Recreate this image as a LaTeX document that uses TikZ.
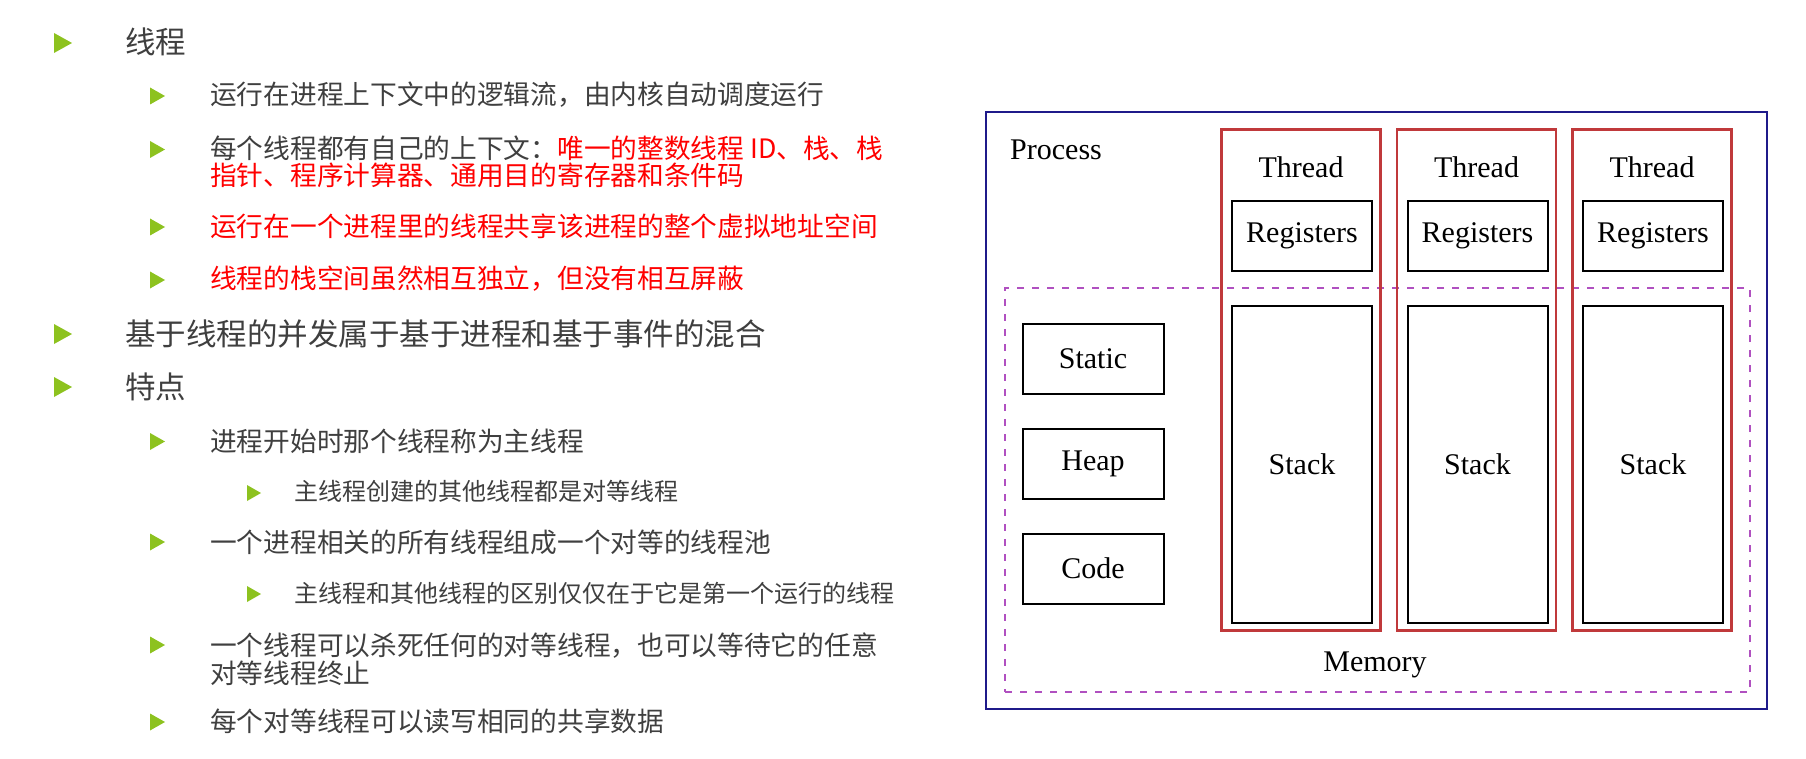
\documentclass[tikz,border=0pt]{standalone}
\usepackage{fontspec}
\setmainfont{Liberation Serif}
\newfontfamily\cjk{Noto Sans CJK SC}
\definecolor{txtgray}{HTML}{3F3F3F}
\definecolor{bulgreen}{HTML}{8DC21F}
\definecolor{hotred}{HTML}{FF0000}
\definecolor{procblue}{HTML}{1F1A8A}
\definecolor{thrred}{HTML}{C0393B}
\definecolor{memmag}{HTML}{B050C0}
\tikzset{
  lvA/.style={anchor=west, inner sep=0pt, text=txtgray, font={\cjk\fontsize{30.5}{32}\selectfont}},
  lvB/.style={anchor=west, inner sep=0pt, text=txtgray, font={\cjk\fontsize{26.7}{27.5}\selectfont}},
  lvC/.style={anchor=west, inner sep=0pt, text=txtgray, font={\cjk\fontsize{24}{26}\selectfont}},
  bulA/.pic={\fill[bulgreen] (0,-10) -- (18,0) -- (0,10) -- cycle;},
  bulB/.pic={\fill[bulgreen] (0,-8.5) -- (15,0) -- (0,8.5) -- cycle;},
  bulC/.pic={\fill[bulgreen] (0,-8) -- (14,0) -- (0,8) -- cycle;},
  dlbl/.style={inner sep=0pt, font={\fontsize{30}{32}\selectfont}},
  procbox/.style={draw=procblue, line width=2pt, rectangle},
  membox/.style={draw=memmag, line width=2.4pt, dash pattern=on 7pt off 8pt, rectangle},
  thrbox/.style={draw=thrred, line width=2.2pt, rectangle, minimum width=159, minimum height=501},
  blk/.style={draw=black, line width=2pt, rectangle, font={\fontsize{30}{32}\selectfont}},
  regbox/.style={blk, minimum width=140, minimum height=70},
  stkbox/.style={blk, minimum width=140, minimum height=317},
  segbox/.style={blk, minimum width=141, minimum height=70},
}
\begin{document}
\begin{tikzpicture}[x=1pt,y=-1pt]
\useasboundingbox[fill=white] (0,0) rectangle (1806,759);
% ---------- left text ----------
\pic at (54,43) {bulA};
\node[lvA] (t1) at (125,42) {线程};
\pic at (150,96) {bulB};
\node[lvB] (t11) at (210,95) {运行在进程上下文中的逻辑流，由内核自动调度运行};
\pic at (150,149.5) {bulB};
\node[lvB, anchor=north west, align=left] (t12) at (210,135.5) {每个线程都有自己的上下文：\textcolor{hotred}{唯一的整数线程 ID、栈、栈}\\\textcolor{hotred}{指针、程序计算器、通用目的寄存器和条件码}};
\pic at (150,227) {bulB};
\node[lvB, text=hotred] (t13) at (210,226) {运行在一个进程里的线程共享该进程的整个虚拟地址空间};
\pic at (150,280) {bulB};
\node[lvB, text=hotred] (t14) at (210,279) {线程的栈空间虽然相互独立，但没有相互屏蔽};
\pic at (54,334) {bulA};
\node[lvA] (t2) at (125,333.5) {基于线程的并发属于基于进程和基于事件的混合};
\pic at (54,387) {bulA};
\node[lvA] (t3) at (125,386.5) {特点};
\pic at (150,441.5) {bulB};
\node[lvB] (t31) at (210,441) {进程开始时那个线程称为主线程};
\pic at (247,493) {bulC};
\node[lvC] (t311) at (294,491.5) {主线程创建的其他线程都是对等线程};
\pic at (150,542) {bulB};
\node[lvB] (t32) at (210,542) {一个进程相关的所有线程组成一个对等的线程池};
\pic at (247,594) {bulC};
\node[lvC] (t321) at (294,593) {主线程和其他线程的区别仅仅在于它是第一个运行的线程};
\pic at (150,645) {bulB};
\node[lvB, anchor=north west, align=left] (t33) at (210,633) {一个线程可以杀死任何的对等线程，也可以等待它的任意\\对等线程终止};
\pic at (150,722) {bulB};
\node[lvB] (t34) at (210,721) {每个对等线程可以读写相同的共享数据};
% ---------- diagram ----------
\node[procbox, minimum width=781, minimum height=597] (proc) at (1376.5,410.5) {};
\node[dlbl, anchor=west] (proclbl) at (1010,150) {Process};
\node[membox, minimum width=745, minimum height=404] (mem) at (1377.5,490) {};
\node[dlbl] (memlbl) at (1375,665) {Memory};
\foreach \i/\cx in {1/1301,2/1476.5,3/1652}{
  \node[thrbox] (thr\i) at (\cx,380) {};
  \node[dlbl] (thrlbl\i) at (\cx,167) {Thread};
  \node[regbox] (reg\i) at (\cx+1,236) {Registers};
  \node[stkbox] (stk\i) at (\cx+1,464) {Stack};
}
\node[segbox] (static) at (1093,359) {Static};
\node[segbox] (heap) at (1093,463.5) {Heap};
\node[segbox] (code) at (1093,568.5) {Code};
\end{tikzpicture}
\end{document}
